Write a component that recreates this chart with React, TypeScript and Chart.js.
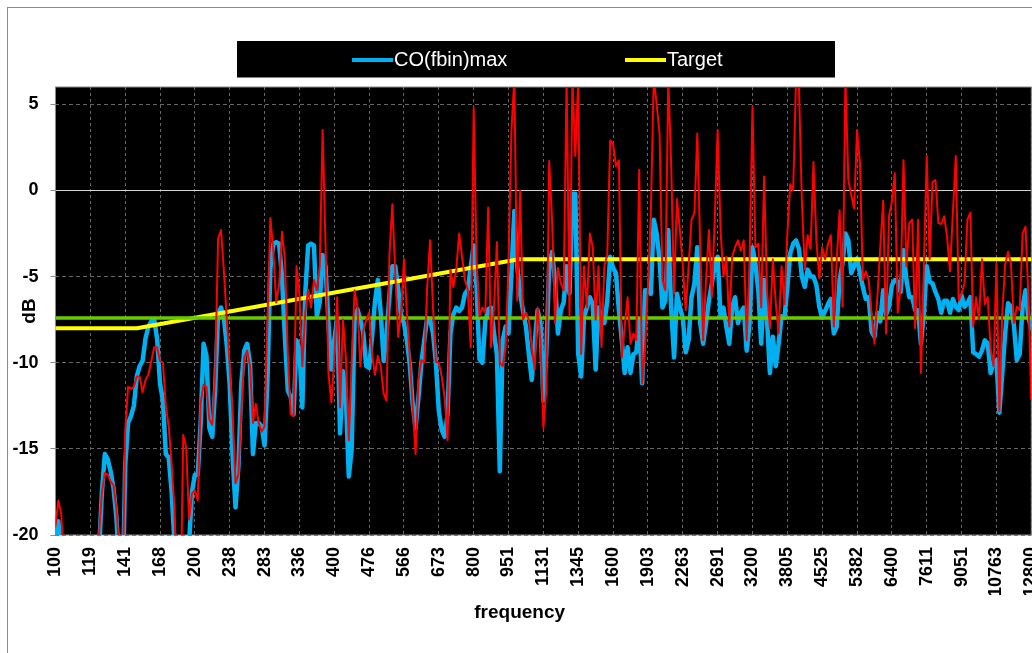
import React, { useEffect, useRef } from "react";
import { Chart, registerables } from "chart.js";

Chart.register(...registerables);

const FONT = "'Liberation Sans', Arial, Helvetica, sans-serif";

const TICK_LABELS = [
  "100", "119", "141", "168", "200", "238", "283", "336", "400", "476",
  "566", "673", "800", "951", "1131", "1345", "1600", "1903", "2263", "2691",
  "3200", "3805", "4525", "5382", "6400", "7611", "9051", "10763", "12800",
];
const POINTS_PER_TICK = 12;

// CO(fbin)max (blue), one value per 1/48 octave from 100 Hz; -25 = below axis
const CO_MAX = [
  -20.3, -19.2, -21, -25, -25, -25, -25, -25, -25, -25, -25, -25,
  -25, -25, -25, -21, -17.5, -15.3, -15.6, -16.3, -17.3, -19, -22, -25,
  -16, -13.5, -13.1, -12.5, -10.8, -10.2, -9.9, -8.6, -7.9, -7.6, -7.5, -8.6,
  -11.2, -12.2, -15.3, -15.5, -17.5, -20.5, -25, -25, -25, -25, -20.5, -17.5,
  -16.5, -16.5, -13.5, -8.9, -9.6, -13.8, -14.3, -11.5, -7.1, -6.8, -7.4, -9.0,
  -11.3, -15.5, -18.4, -16.0, -11.2, -9.3, -8.9, -10.1, -15.3, -13.5, -13.5, -13.7,
  -14.8, -11.0, -4.5, -3.1, -3.0, -3.1, -5.0, -8.5, -11.6, -12.0, -13.0, -8.7,
  -9.2, -12.6, -6.0, -3.2, -3.1, -3.2, -7.3, -6.5, -3.75, -4.4, -7.7, -10.4,
  -8.7, -7.4, -14.1, -10.5, -12.0, -16.6, -15.0, -7.5, -6.9, -7.5, -8.3, -10.2,
  -10.3, -8.5, -6.5, -5.2, -7.1, -9.9, -8.3, -6.1, -4.4, -4.4, -5.7, -7.3,
  -7.7, -8.7, -10.1, -12.4, -13.8, -12.0, -10.0, -8.7, -7.4, -7.5, -8.3, -10.0,
  -12.8, -13.9, -14.3, -13.0, -8.3, -7.2, -6.8, -7.0, -6.8, -6.0, -5.75, -4.4,
  -3.2, -5.6, -9.8, -10.0, -7.6, -6.9, -6.8, -8.3, -9.5, -16.3, -8.7, -7.9,
  -8.3, -4.8, -1.2, -4.4, -6.0, -7.0, -7.9, -9.5, -11.0, -8.9, -6.95, -7.7,
  -12.2, -9.5, -4.4, -3.56, -5.2, -8.3, -6.95, -6.5, -4.4, -6.0, -0.2, -0.2,
  -9.5, -10.8, -7.3, -6.8, -6.2, -6.6, -10.4, -6.8, -7.5, -7.7, -6.4, -3.85,
  -4.5, -4.8, -6.95, -8.7, -10.6, -9.1, -10.6, -9.5, -9.4, -7.5, -11.2, -5.8,
  -5.8, -6.0, -1.7, -2.5, -4.0, -6.8, -6.4, -2.3, -6.8, -9.7, -6.0, -6.8,
  -7.4, -9.4, -8.7, -6.2, -5.4, -3.3, -7.7, -8.9, -7.7, -6.4, -5.4, -4.4,
  -3.85, -7.3, -6.8, -7.9, -8.9, -6.8, -6.2, -7.7, -7.1, -6.8, -9.3, -7.7,
  -3.3, -4.25, -5.8, -8.9, -5.2, -7.5, -10.6, -8.5, -10.2, -8.9, -7.3, -7.4,
  -5.6, -3.66, -3.1, -2.9, -3.4, -5.0, -5.6, -4.6, -5.0, -5.0, -5.5, -6.75,
  -7.4, -7.0, -6.6, -6.3, -8.3, -7.9, -5.2, -4.25, -2.5, -2.9, -4.8, -4.4,
  -3.95, -4.8, -5.6, -6.3, -6.2, -8.2, -8.5, -7.1, -7.6, -5.8, -7.2, -6.75,
  -5.5, -5.2, -5.3, -5.9, -3.47, -5.2, -6.2, -6.2, -6.95, -6.95, -8.9, -7.1,
  -4.4, -5.3, -5.4, -5.9, -6.3, -7.1, -6.4, -6.4, -7.1, -6.3, -6.75, -6.95,
  -6.1, -6.75, -6.55, -6.2, -9.4, -9.5, -9.65, -9.3, -8.7, -8.9, -10.6, -9.95,
  -9.85, -12.9, -10.6, -8.3, -6.55, -6.75, -7.8, -9.85, -9.5, -6.75, -5.8, -7.4,
  -8.0,
];

// CO(fbin) (red), same frequency grid
const CO_FBIN = [
  -19.5, -18.0, -18.8, -22, -25, -25, -25, -25, -25, -25, -25, -25,
  -25, -25, -25, -20, -17.5, -16.4, -16.5, -16.9, -17.1, -18.5, -21, -25,
  -14, -11.4, -11.5, -11.4, -10.8, -10.8, -11.7, -11.0, -10.7, -9.9, -9.1, -9.1,
  -9.9, -10.0, -12.5, -13.7, -15.9, -18.5, -25, -25, -14.2, -14.9, -19.1, -17.6,
  -17.4, -18.0, -12.3, -11.3, -11.4, -13.3, -13.6, -10.6, -2.8, -2.3, -4.7, -7.5,
  -10.2, -13.0, -17.0, -16.5, -12.8, -9.7, -9.3, -10.2, -13.5, -12.4, -13.5, -14.0,
  -13.7, -7.5, -1.6, -3.5, -6.5, -5.5, -2.4, -4.0, -9.5, -13.0, -13.1, -4.4,
  -6.0, -10.2, -7.1, -5.75, -6.8, -5.2, -5.8, -4.4, 3.5, -3.3, -10.6, -12.3,
  -9.85, -6.2, -12.6, -7.5, -9.7, -14.5, -9.85, -5.8, -6.8, -10.2, -8.1, -7.5,
  -7.1, -9.5, -10.7, -9.6, -10.2, -11.8, -12.2, -3.7, -0.8, -4.8, -8.5, -7.1,
  -4.0, -7.1, -9.7, -12.6, -15.3, -11.0, -9.85, -10.0, -5.6, -2.9, -6.8, -9.95,
  -10.0, -10.8, -12.0, -14.5, -4.6, -5.6, -4.6, -2.5, -3.85, -5.2, -5.8, -9.1,
  4.8, -4.2, -7.3, -6.8, -7.1, -1.0, -9.1, -6.8, -3.0, -10.0, -10.2, -9.1,
  -4.2, 3.5, 6.5, -6.4, 0, -7.5, -7.1, -7.5, -9.1, -10.4, -6.8, -8.7,
  -13.8, -11.6, 1.7, -1.7, -7.7, -4.5, -5.4, -5.8, 6.5, -7.3, 6.5, 2.0,
  6.5, -9.5, -4.4, -6.8, -2.5, -3.3, -7.5, -4.4, -9.1, -4.4, -3.7, 2.9,
  2.7, 1.4, 1.75, -9.7, -7.9, -6.2, -8.9, -8.3, -8.7, 1.2, -11.2, -9.1,
  -5.6, -1.3, 6.5, 5.0, 3.3, -5.2, -5.8, 6.5, 1.5, -6.0, -0.5, -2.3,
  -4.4, -6.95, -4.4, -1.7, -1.3, 3.3, -3.3, -8.7, -5.2, -2.3, -6.2, -1.7,
  3.5, -2.3, -5.0, -3.85, -7.9, -3.85, -3.3, -2.9, -3.5, -2.9, -8.7, -4.0,
  4.85, -3.3, -3.1, -6.8, 0.8, -5.8, -8.0, -4.0, -6.5, -8.3, -4.4, -6.6,
  -2.5, 0.36, 0, 6.5, 6.0, -0.6, -4.6, -2.6, -3.4, 1.65, -2.9, -5.1,
  -3.3, -4.0, -3.1, -2.6, -7.9, -4.0, -1.15, -6.75, 6.5, 0.6, -0.27, -1.05,
  3.5, 1.6, -5.2, -4.7, -5.2, -7.1, -8.9, -6.2, -3.3, -0.6, -8.3, -1.5,
  -0.65, 1.0, -7.1, -5.6, 1.75, -4.4, -1.9, -1.7, -8.0, -1.7, -10.6, -4.4,
  2.0, -4.0, 0.5, 0.6, -1.9, -1.95, -1.5, -2.7, -4.7, -1.3, 2.0, -6.4,
  -6.0, -5.4, -1.7, -1.3, -7.9, -6.2, -7.5, -4.0, -6.6, -6.2, -9.2, -10.2,
  -4.25, -12.8, -7.1, -4.3, -3.56, -4.25, -7.7, -6.75, -6.95, -2.5, -2.1, -6.2,
  -12.1,
];

// Target: breakpoints (grid index, dB)
const TARGET_INDEX = [0, 28.08, 159.45, 336];
const TARGET_DB = [-8, -8, -4, -4];

// Green reference level
const REF_INDEX = [0, 336];
const REF_DB = [-7.4, -7.4];

const Y_MIN = -20;
const Y_MAX = 6;
const Y_STEP = 5;

const CANVAS_W = 1068;
const CANVAS_H = 645;

const plotFrame = {
  id: "plotFrame",
  beforeDraw(chart: any) {
    const { ctx, chartArea: a } = chart;
    ctx.save();
    ctx.fillStyle = "#000000";
    ctx.fillRect(a.left, a.top, a.right - a.left, a.bottom - a.top);
    ctx.restore();
  },
  beforeDatasetsDraw(chart: any) {
    const { ctx, chartArea: a } = chart;
    const y0 = Math.round(chart.scales.y.getPixelForValue(0)) + 0.5;
    ctx.save();
    ctx.strokeStyle = "#d4d4d4";
    ctx.lineWidth = 1;
    ctx.beginPath();
    ctx.moveTo(a.left, y0);
    ctx.lineTo(a.right, y0);
    ctx.stroke();
    ctx.strokeStyle = "#8c8c8c";
    ctx.strokeRect(a.left, a.top, a.right - a.left, a.bottom - a.top);
    ctx.restore();
  },
};

export default function App() {
  const canvasRef = useRef<HTMLCanvasElement | null>(null);

  useEffect(() => {
    const canvas = canvasRef.current;
    if (!canvas) return;
    const xy = (xs: number[], ys: number[]) => ys.map((y, i) => ({ x: xs[i], y }));
    const indexed = (ys: number[]) => ys.map((y, i) => ({ x: i, y }));
    const lastIndex = (TICK_LABELS.length - 1) * POINTS_PER_TICK;

    const common = {
      pointRadius: 0,
      pointHoverRadius: 0,
      tension: 0,
      fill: false,
      borderJoinStyle: "round" as const,
      borderCapStyle: "round" as const,
      clip: 0,
    };

    const chart = new Chart(canvas, {
      type: "line",
      data: {
        datasets: [
          { ...common, label: "CO(fbin)", data: indexed(CO_FBIN), borderColor: "#ff0000", borderWidth: 2, order: 0 },
          { ...common, label: "Reference", data: xy(REF_INDEX, REF_DB), borderColor: "#66cc00", borderWidth: 3.5, order: 1 },
          { ...common, label: "Target", data: xy(TARGET_INDEX, TARGET_DB), borderColor: "#ffff00", borderWidth: 4, order: 2 },
          { ...common, label: "CO(fbin)max", data: indexed(CO_MAX), borderColor: "#00b0f0", borderWidth: 4.5, order: 3 },
        ],
      },
      options: {
        responsive: false,
        animation: false,
        devicePixelRatio: 1,
        events: [],
        layout: { padding: { top: 79, left: 0, right: CANVAS_W - 1023.3, bottom: 0 } },
        plugins: {
          legend: { display: false },
          tooltip: { enabled: false },
          title: {
            display: true,
            position: "bottom",
            text: "frequency",
            color: "#000000",
            font: { family: FONT, size: 19, weight: "bold" },
            padding: { top: 6.6, bottom: 28.6 },
          },
        },
        scales: {
          x: {
            type: "linear",
            min: 0,
            max: lastIndex,
            afterFit: (s: any) => {
              s.height = 60;
            },
            ticks: {
              stepSize: POINTS_PER_TICK,
              maxTicksLimit: 100,
              autoSkip: false,
              minRotation: 90,
              maxRotation: 90,
              padding: 12,
              color: "#000000",
              font: { family: FONT, size: 18, weight: "bold" },
              callback: (v: any) => {
                const k = Math.round(Number(v) / POINTS_PER_TICK);
                return TICK_LABELS[k] ?? "";
              },
            },
            grid: { color: "#666666", lineWidth: 1, drawTicks: false },
            border: { display: false, dash: [3, 3] },
          },
          y: {
            type: "linear",
            min: Y_MIN,
            max: Y_MAX,
            afterFit: (s: any) => {
              s.width = 47.45;
            },
            ticks: {
              stepSize: Y_STEP,
              includeBounds: false,
              maxTicksLimit: 100,
              padding: 12,
              color: "#000000",
              font: { family: FONT, size: 18, weight: "bold" },
            },
            grid: {
              color: "#666666",
              lineWidth: 1,
              drawTicks: true,
              tickLength: 5,
              tickColor: "#8c8c8c",
              tickBorderDash: [],
            },
            border: { display: false, dash: [4, 3] },
            title: {
              display: true,
              text: "dB",
              color: "#000000",
              font: { family: FONT, size: 19, weight: "bold" },
              padding: { top: 10.6, bottom: 0 },
            },
          },
        },
      },
      plugins: [plotFrame],
    });
    return () => chart.destroy();
  }, []);

  const legendText: React.CSSProperties = {
    position: "absolute",
    top: 0,
    lineHeight: "36px",
    fontFamily: FONT,
    fontSize: 20,
    color: "#ffffff",
    whiteSpace: "nowrap",
  };

  return (
    <div
      style={{
        position: "fixed",
        left: 7,
        top: 7,
        width: CANVAS_W,
        height: CANVAS_H,
        border: "1px solid #8c8c8c",
        background: "#ffffff",
      }}
    >
      <canvas
        ref={canvasRef}
        width={CANVAS_W}
        height={CANVAS_H}
        style={{ display: "block", width: CANVAS_W, height: CANVAS_H }}
      />
      <div
        style={{
          position: "absolute",
          left: 229,
          top: 33,
          width: 598,
          height: 36,
          background: "#000000",
          boxShadow: "0 1px 0 #7f7f7f",
        }}
      >
        <div style={{ position: "absolute", left: 115, top: 17, width: 41, height: 4, background: "#00b0f0" }} />
        <div style={{ ...legendText, left: 157 }}>CO(fbin)max</div>
        <div style={{ position: "absolute", left: 388, top: 17, width: 41, height: 4, background: "#ffff00" }} />
        <div style={{ ...legendText, left: 430 }}>Target</div>
      </div>
    </div>
  );
}
